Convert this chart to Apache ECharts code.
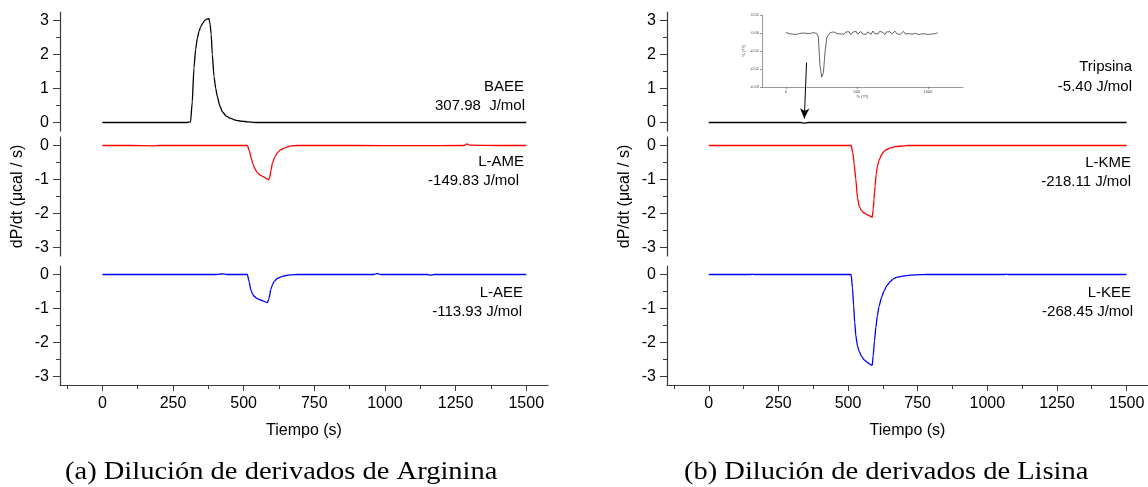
<!DOCTYPE html>
<html><head><meta charset="utf-8">
<script src="https://cdn.jsdelivr.net/npm/echarts@6.0.0/dist/echarts.min.js"></script>
<style>html,body{margin:0;padding:0;background:#fff}#c{width:1148px;height:487px}</style>
</head><body><div id="c"></div>
<script>
// ---- data (time s, dP/dt µcal/s) ----
const baee = [[0,0],[100,0],[200,0],[300,0],[312,0.02],[318,0.6],[324,1.6],[330,2.15],[336,2.48],[342,2.68],[348,2.82],[355,2.92],[362,3.0],[370,3.04],[377,3.06],[381,2.9],[385,2.6],[389,2.0],[395,1.35],[401,1.0],[407,0.76],[415,0.5],[425,0.31],[438,0.19],[454,0.12],[470,0.07],[490,0.04],[515,0.02],[540,0],[700,0],[900,0],[1100,0],[1300,0],[1500,0]];
const lame = [[0,0],[100,0],[180,-0.01],[200,0],[400,0],[513,0],[520,-0.15],[527,-0.38],[533,-0.55],[540,-0.68],[548,-0.8],[560,-0.88],[572,-0.93],[582,-0.98],[588,-1.01],[592,-0.95],[597,-0.72],[602,-0.51],[610,-0.34],[619,-0.22],[630,-0.13],[643,-0.08],[655,-0.04],[667,-0.01],[690,0],[900,0],[1100,-0.005],[1280,0],[1290,0.05],[1300,0.01],[1400,0],[1500,0]];
const laee = [[0,0],[100,0],[400,0],[415,0.01],[425,0.02],[440,0],[513,0],[519,-0.2],[525,-0.44],[531,-0.57],[537,-0.64],[548,-0.71],[560,-0.75],[572,-0.79],[584,-0.83],[590,-0.7],[596,-0.44],[602,-0.3],[608,-0.2],[620,-0.11],[632,-0.07],[650,-0.03],[667,-0.01],[690,0],[960,0],[973,0.03],[985,0],[1150,0],[1162,-0.02],[1175,0],[1500,0]];
const tripsina = [[0,0],[330,0],[343,-0.02],[356,0],[700,0],[1000,0],[1500,0]];
const lkme = [[0,0],[300,0],[511,0],[517,-0.21],[522,-0.55],[528,-1.0],[534,-1.55],[540,-1.78],[546,-1.89],[555,-1.97],[565,-2.02],[575,-2.06],[587,-2.11],[590,-1.9],[593,-1.6],[597,-1.2],[601,-0.85],[606,-0.6],[611,-0.44],[620,-0.28],[629,-0.17],[640,-0.11],[652,-0.07],[670,-0.035],[700,-0.01],[717,0],[1000,0],[1500,0]];
const lkee = [[0,0],[150,0],[155,0.01],[165,0],[511,0],[516,-0.4],[520,-0.9],[524,-1.4],[528,-1.8],[534,-2.1],[540,-2.26],[548,-2.4],[558,-2.51],[568,-2.58],[576,-2.63],[587,-2.67],[590,-2.4],[595,-1.95],[600,-1.55],[605,-1.22],[611,-0.95],[620,-0.68],[629,-0.49],[640,-0.32],[652,-0.2],[664,-0.12],[676,-0.08],[700,-0.04],[723,-0.02],[760,-0.005],[782,0],[1060,0],[1068,0.01],[1076,0],[1500,0]];

// inset (Tripsina, zoomed)
const insetT = [0,12,24,36,48,60,72,84,96,108,120,132,144,156,168,180,192,204,216,228,240,252,264,276,288,300,312,324,336,348,360,372,384,396,408,420,432,444,456,468,480,492,504,516,528,540,552,564,576,588,600,612,624,636,648,660,672,684,696,708,720,732,744,756,768,780,792,804,816,828,840,852,864,876,888,900,912,924,936,948,960,972,984,996,1008,1020,1032,1044,1056,1068];
const insetV = [0.0003,0.0009,-0.0004,0.0005,-0.0006,0.0002,-0.0008,0.0001,-0.0003,-0.0010,0.0000,-0.0006,-0.0002,-0.0011,-0.0003,-0.0009,0.0002,-0.0007,-0.0002,-0.0020,-0.0180,-0.0245,-0.0220,-0.0100,-0.0025,-0.0010,0.0002,-0.0008,0.0006,0.0012,-0.0003,0.0008,-0.0005,0.0004,-0.0007,0.0005,-0.0002,0.0007,-0.0009,0.0003,-0.0004,0.0010,-0.0006,0.0002,0.0008,-0.0005,0.0004,-0.0008,0.0006,0.0001,-0.0007,0.0011,-0.0003,0.0005,-0.0006,0.0009,-0.0002,0.0003,-0.0009,0.0006,-0.0001,0.0007,-0.0005,0.0002,0.0010,-0.0004,0.0005,-0.0008,0.0003,0.0009,-0.0006,0.0001,-0.0003,0.0008,-0.0007,0.0004,-0.0002,0.0006,-0.0009,0.0002,-0.0004,0.0005,-0.0006,0.0003,-0.0008,0.0001,-0.0005,0.0004,-0.0003,0.0002];

// ticks
const xMajor = [0,250,500,750,1000,1250,1500];
const xMinor = [-125,125,375,625,875,1125,1375];
const yMajorPos = [0,1,2,3], yMinorPos = [0.5,1.5,2.5];
const yMajorNeg = [0,-1,-2,-3], yMinorNeg = [-0.5,-1.5,-2.5];
const insetXTicks = [0,500,1000];
const insetYTicks = [0.01,0,-0.01,-0.02,-0.03];

// labels
const namesA = ['BAEE','L-AME','L-AEE'];
const enthA = ['307.98  J/mol','-149.83 J/mol','-113.93 J/mol'];
const namesB = ['Tripsina','L-KME','L-KEE'];
const enthB = ['-5.40 J/mol','-218.11 J/mol','-268.45 J/mol'];
const captions = ['(a) Dilución de derivados de Arginina','(b) Dilución de derivados de Lisina'];
const xTitle = 'Tiempo (s)';
const yTitle = 'dP/dt (\u03bccal / s)';

const panelData = [[baee,lame,laee],[tripsina,lkme,lkee]];
const colors = ['#000000','#ff0000','#0000ff'];

const panelLeft = [60, 667];
const rowTop = [12, 137, 266];
const rowH = 119;
const axisColor = '#3a3a3a';
const FONT = 'Liberation Sans';
const plain = v => String(v);

const grids = [], xAxes = [], yAxes = [], series = [];
for (let p = 0; p < 2; p++) {
  for (let r = 0; r < 3; r++) {
    const g = grids.length;
    grids.push({left: panelLeft[p], top: rowTop[r], width: 488, height: rowH});
    const bottom = r === 2;
    const xi = xAxes.length;
    xAxes.push({
      gridIndex: g, type: 'value', min: -150, max: 1577, show: bottom, position: 'bottom',
      axisLine: {show: true, onZero: false, lineStyle: {color: axisColor, width: 1.2}},
      axisTick: {show: true, customValues: xMajor, length: 6, lineStyle: {color: axisColor}},
      axisLabel: {show: true, customValues: xMajor, formatter: plain, fontFamily: FONT, fontSize: 16, color: '#000', margin: 11},
      splitLine: {show: false},
      name: bottom ? xTitle : '', nameLocation: 'middle', nameGap: 38,
      nameTextStyle: {fontFamily: FONT, fontSize: 16, color: '#000'}
    });
    const pos = r === 0;
    const ymin = pos ? -0.25 : -3.25, ymax = pos ? 3.25 : 0.25;
    const yi = yAxes.length;
    yAxes.push({
      gridIndex: g, type: 'value', min: ymin, max: ymax, position: 'left',
      axisLine: {show: true, onZero: false, lineStyle: {color: axisColor, width: 1.2}},
      axisTick: {show: true, customValues: pos ? yMajorPos : yMajorNeg, length: 7, lineStyle: {color: axisColor}},
      axisLabel: {show: true, customValues: pos ? yMajorPos : yMajorNeg, formatter: plain, fontFamily: FONT, fontSize: 16, color: '#000', margin: 11},
      splitLine: {show: false},
      name: r === 1 ? yTitle : '', nameLocation: 'middle', nameGap: 34, nameRotate: 90,
      nameTextStyle: {fontFamily: FONT, fontSize: 16, color: '#000'}
    });
    yAxes.push({
      gridIndex: g, type: 'value', min: ymin, max: ymax, position: 'left', offset: 0,
      axisLine: {show: false, onZero: false},
      axisTick: {show: true, customValues: pos ? yMinorPos : yMinorNeg, length: 4, lineStyle: {color: axisColor}},
      axisLabel: {show: false}, splitLine: {show: false}
    });
    if (bottom) {
      xAxes.push({
        gridIndex: g, type: 'value', min: -150, max: 1577, position: 'bottom', offset: 0,
        axisLine: {show: false, onZero: false},
        axisTick: {show: true, customValues: xMinor, length: 4, lineStyle: {color: axisColor}},
        axisLabel: {show: false}, splitLine: {show: false}
      });
    }
    const s = {
      type: 'line', xAxisIndex: xi, yAxisIndex: yi,
      data: panelData[p][r], showSymbol: false, smooth: 0.2, smoothMonotone: 'x',
      lineStyle: {color: colors[r], width: 1.3}, itemStyle: {color: colors[r]}, silent: true, animation: false
    };
    if (p === 1 && r === 0) {
      s.markLine = {
        silent: true, animation: false, symbol: ['none', 'arrow'], symbolSize: [7, 10],
        lineStyle: {color: '#000', width: 1, type: 'solid'}, label: {show: false},
        data: [[{coord: [351, 1.76]}, {coord: [343, 0.12]}]]
      };
    }
    series.push(s);
  }
}

// inset grid
const gi = grids.length;
grids.push({left: 762, top: 15, width: 201, height: 72});
const insetAxisStyle = {color: '#555', width: 0.6};
const ixi = xAxes.length, iyi = yAxes.length;
xAxes.push({
  gridIndex: gi, type: 'value', min: -168, max: 1246, position: 'bottom',
  axisLine: {show: true, onZero: false, lineStyle: insetAxisStyle},
  axisTick: {show: true, customValues: insetXTicks, length: 2, lineStyle: insetAxisStyle},
  axisLabel: {show: true, customValues: insetXTicks, formatter: plain, fontFamily: FONT, fontSize: 4, color: '#444', margin: 3},
  splitLine: {show: false},
  name: '% (??)', nameLocation: 'middle', nameGap: 8, nameTextStyle: {fontFamily: FONT, fontSize: 4, color: '#444'}
});
yAxes.push({
  gridIndex: gi, type: 'value', min: -0.03, max: 0.01, position: 'left',
  axisLine: {show: true, onZero: false, lineStyle: insetAxisStyle},
  axisTick: {show: true, customValues: insetYTicks, length: 2, lineStyle: insetAxisStyle},
  axisLabel: {show: true, customValues: insetYTicks, fontFamily: FONT, fontSize: 4, color: '#444', margin: 3,
    formatter: v => v.toFixed(2)},
  splitLine: {show: false},
  name: '% (??)', nameLocation: 'middle', nameGap: 14, nameRotate: 90, nameTextStyle: {fontFamily: FONT, fontSize: 4, color: '#444'}
});
series.push({
  type: 'line', xAxisIndex: ixi, yAxisIndex: iyi,
  data: insetT.map((t, i) => [t, insetV[i]]), showSymbol: false,
  lineStyle: {color: '#222', width: 0.7}, silent: true, animation: false
});

// text annotations
const annoRight = [[524, 525, 524, 519, 523, 522], [1132, 1132, 1131, 1131, 1131, 1133]];
const annoY = [[86.7, 106, 161.7, 181, 293.3, 311.7], [66.7, 86.7, 163, 181.7, 293.3, 311.7]];
const graphics = [];
[[namesA, enthA], [namesB, enthB]].forEach((pair, p) => {
  for (let r = 0; r < 3; r++) {
    [pair[0][r], pair[1][r]].forEach((txt, k) => {
      graphics.push({type: 'text', x: annoRight[p][2 * r + k], y: annoY[p][2 * r + k], silent: true,
        style: {text: txt, align: 'right', verticalAlign: 'middle', font: '15px "' + FONT + '"', fill: '#000'}});
    });
  }
});
const capX = [65, 684];
captions.forEach((c, i) => graphics.push({type: 'text', x: capX[i], y: 472, scaleX: 1.14, silent: true,
  style: {text: c, align: 'left', verticalAlign: 'middle', font: '25px "Liberation Serif"', fill: '#000'}}));

const chart = echarts.init(document.getElementById('c'), null, {renderer: 'canvas'});
chart.setOption({
  animation: false, backgroundColor: '#fff',
  grid: grids, xAxis: xAxes, yAxis: yAxes, series: series, graphic: graphics
});
</script></body></html>
